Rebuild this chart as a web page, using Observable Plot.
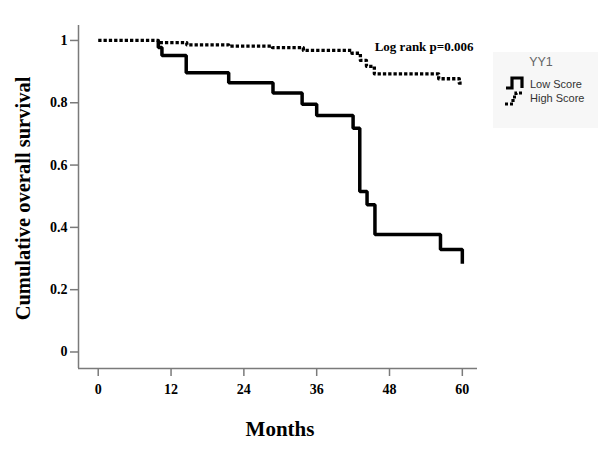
<!DOCTYPE html>
<html>
<head>
<meta charset="utf-8">
<script src="https://cdn.jsdelivr.net/npm/d3@7"></script>
<script src="https://cdn.jsdelivr.net/npm/@observablehq/plot@0.6"></script>
<style>
  html, body { margin: 0; padding: 0; background: #fff; }
  #wrap { position: relative; width: 598px; height: 455px; overflow: hidden; }
  #legend { position: absolute; left: 493px; top: 52px; width: 105px; height: 76px; background: #f7f7f7;
            font-family: "Liberation Sans", Arial, sans-serif; }
  #legend .title { position: absolute; left: 0; width: 96px; top: 3px; text-align: center; font-size: 12.5px; color: #666; }
  #legend .item { position: absolute; left: 37px; font-size: 11px; color: #333; }
  #legend svg { position: absolute; left: 0; top: 0; }
</style>
</head>
<body>
<div id="wrap">
  <div id="chart"></div>
  <div id="legend">
    <svg width="40" height="76">
      <path d="M13,36 H19 V26 H29 V36" fill="none" stroke="#000" stroke-width="3.2"/>
      <path d="M12,52 H20 V45 H23 V41 H29" fill="none" stroke="#000" stroke-width="3.2" stroke-dasharray="3,2"/>
    </svg>
    <div class="title">YY1</div>
    <div class="item" style="top:26px">Low Score</div>
    <div class="item" style="top:40px">High Score</div>
  </div>
</div>
<script>
// Data (months, cumulative survival)
const lowTime  = [9.9, 9.9, 10.5, 14.5, 21.5, 28.8, 33.6, 36.0, 42.0, 43.1, 44.3, 45.6, 56.4, 60.0];
const lowSurv  = [1.0, 0.977, 0.952, 0.896, 0.864, 0.831, 0.795, 0.759, 0.718, 0.515, 0.473, 0.377, 0.329, 0.283];
const highTime = [0, 9.9, 14.6, 21.5, 28.7, 33.8, 41.8, 43.2, 44.2, 45.5, 56.1, 59.5, 60.0];
const highSurv = [1.0, 0.993, 0.986, 0.982, 0.977, 0.968, 0.959, 0.936, 0.917, 0.893, 0.877, 0.863, 0.863];
const xTicks = [0, 12, 24, 36, 48, 60];
const yTicks = [0, 0.2, 0.4, 0.6, 0.8, 1];
const xDomain = [-3.25, 62.5];
const yDomain = [-0.053, 1.048];
const annotation = ["Log rank p=0.006"];
const xTitle = ["Months"];
const yTitle = ["Cumulative overall survival"];

const low = lowTime.map((t, i) => ({t, s: lowSurv[i]}));
const high = highTime.map((t, i) => ({t, s: highSurv[i]}));

const axisGray = "#7a7a7a";
const serif = "'Liberation Serif', 'Times New Roman', serif";
const plot = Plot.plot({
  width: 598,
  height: 455,
  marginLeft: 78,
  marginRight: 121,
  marginTop: 25,
  marginBottom: 87,
  style: { fontFamily: serif, fontSize: "14px", fontWeight: "bold", background: "transparent", color: "#000" },
  x: { domain: xDomain },
  y: { domain: yDomain },
  marks: [
    Plot.ruleX([xDomain[0]], { stroke: axisGray, strokeWidth: 1.5 }),
    Plot.ruleY([yDomain[0]], { stroke: axisGray, strokeWidth: 1.5 }),
    Plot.axisX({ ticks: xTicks, tickSize: 8, tickPadding: 8, stroke: axisGray, strokeWidth: 1.5, tickFormat: d => String(d), label: null, fontSize: 14, fontWeight: "bold", fontFamily: serif }),
    Plot.axisY({ ticks: yTicks, tickSize: 8, tickPadding: 3, stroke: axisGray, strokeWidth: 1.5, tickFormat: d => String(d), label: null, fontSize: 14, fontWeight: "bold", fontFamily: serif }),
    Plot.line(low, { x: "t", y: "s", curve: "step-after", stroke: "#000", strokeWidth: 3.5, strokeLinejoin: "miter", strokeLinecap: "butt" }),
    Plot.line(high, { x: "t", y: "s", curve: "step-after", stroke: "#000", strokeWidth: 3.3, strokeDasharray: "3.3,2", strokeLinecap: "butt" }),
    Plot.text(annotation, { frameAnchor: "top-right", dx: -4, dy: 16, fontSize: 13, fontWeight: "bold", fill: "#000", fontFamily: serif }),
    Plot.text(xTitle, { frameAnchor: "bottom", dx: 2, dy: 67, fontSize: 21, fontWeight: "bold", fill: "#000", fontFamily: serif }),
    Plot.text(yTitle, { frameAnchor: "left", textAnchor: "middle", dx: -55, dy: 1.5, rotate: -90, fontSize: 20.5, fontWeight: "bold", fill: "#000", fontFamily: serif })
  ]
});
document.getElementById("chart").appendChild(plot);
</script>
</body>
</html>
